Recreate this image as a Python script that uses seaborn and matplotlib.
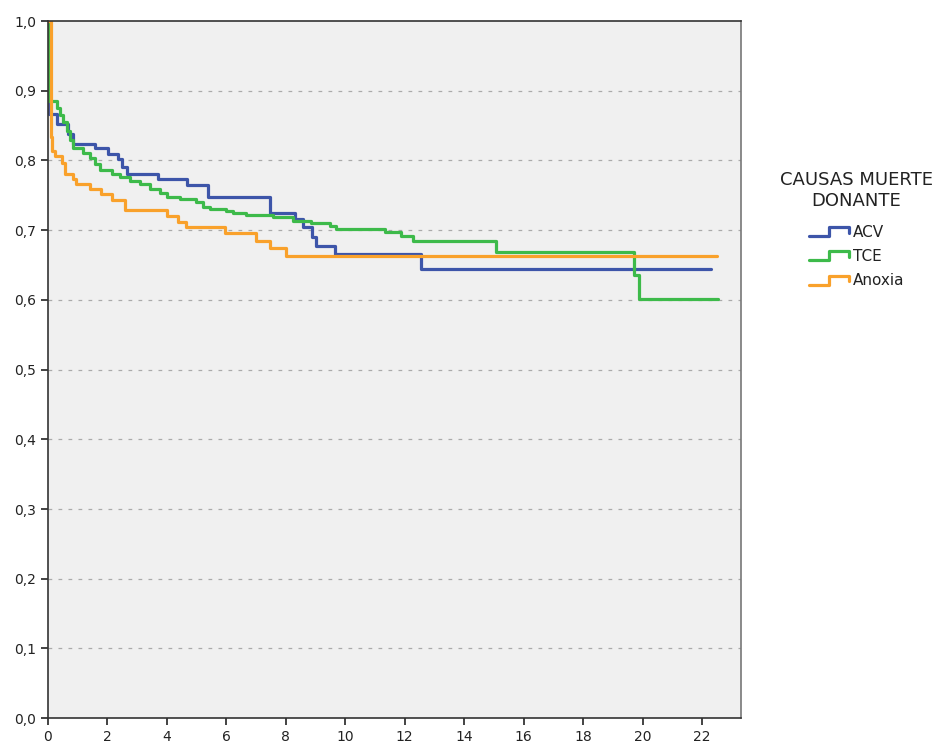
import numpy as np
import pandas as pd
import matplotlib
matplotlib.use('Agg')
import matplotlib.pyplot as plt
from matplotlib.lines import Line2D
from matplotlib.legend_handler import HandlerBase
import seaborn as sns

# curvas de supervivencia: tiempo de cada caida y supervivencia acumulada tras ella
acv_t = [0, 0.05, 0.3, 0.67, 0.84, 1.58, 2.02, 2.35, 2.5, 2.65, 3.7, 4.67, 5.37,
         7.46, 8.3, 8.57, 8.87, 9.0, 9.64, 12.55, 22.3]
acv_s = [1.0, 0.867, 0.852, 0.838, 0.824, 0.818, 0.81, 0.802, 0.79, 0.781, 0.773,
         0.765, 0.748, 0.725, 0.716, 0.704, 0.69, 0.678, 0.666, 0.644, 0.644]

tce_t = [0, 0.05, 0.29, 0.40, 0.51, 0.63, 0.74, 0.85, 1.19, 1.41, 1.58, 1.75, 2.14,
         2.42, 2.75, 3.09, 3.43, 3.76, 3.99, 4.43, 4.99, 5.22, 5.44, 6.0, 6.23, 6.67,
         7.57, 8.24, 8.86, 9.47, 9.70, 11.32, 11.88, 12.27, 15.07, 19.72, 19.89, 22.52]
tce_s = [1.0, 0.885, 0.875, 0.865, 0.855, 0.843, 0.830, 0.818, 0.811, 0.804, 0.795,
         0.787, 0.780, 0.776, 0.770, 0.766, 0.759, 0.753, 0.747, 0.745, 0.740, 0.733,
         0.731, 0.728, 0.725, 0.722, 0.719, 0.713, 0.710, 0.706, 0.702, 0.697, 0.691,
         0.684, 0.668, 0.635, 0.601, 0.601]

anox_t = [0, 0.1, 0.12, 0.24, 0.46, 0.57, 0.85, 0.96, 1.41, 1.80, 2.14, 2.59, 3.99,
          4.38, 4.66, 5.95, 7.01, 7.46, 8.02, 22.5]
anox_s = [1.0, 0.833, 0.814, 0.807, 0.797, 0.780, 0.773, 0.766, 0.759, 0.752, 0.743,
          0.729, 0.721, 0.712, 0.704, 0.696, 0.685, 0.674, 0.663, 0.663]

grupos = ['ACV', 'TCE', 'Anoxia']
colores = ['#3D55A9', '#3DBA4A', '#F9A12B']

df = pd.concat([
    pd.DataFrame({'t': acv_t, 's': acv_s, 'grupo': 'ACV'}),
    pd.DataFrame({'t': tce_t, 's': tce_s, 'grupo': 'TCE'}),
    pd.DataFrame({'t': anox_t, 's': anox_s, 'grupo': 'Anoxia'}),
], ignore_index=True)

sns.set_style('ticks')
plt.rcParams['font.family'] = ['DejaVu Sans']

fig = plt.figure(figsize=(9.4, 7.52), dpi=100)
ax = fig.add_axes([0.051, 0.045, 0.737, 0.927])
ax.set_facecolor('#F0F0F0')

sns.lineplot(data=df, x='t', y='s', hue='grupo', hue_order=grupos,
             palette=colores, estimator=None, sort=False,
             drawstyle='steps-post', linewidth=2.3, ax=ax, legend=False)

ax.set_xlim(0, 23.3)
ax.set_ylim(0, 1.0)
ax.set_xticks(np.arange(0, 23, 2))
ax.set_yticks(np.arange(0, 1.01, 0.1))
ax.set_yticklabels([f'{v:.1f}'.replace('.', ',') for v in np.arange(0, 1.01, 0.1)])
for v in np.arange(0.1, 0.95, 0.1):
    ax.axhline(v, color='#AAAAAA', linestyle=(0, (3, 5)), linewidth=0.9, zorder=0)
ax.set_xlabel('')
ax.set_ylabel('')
ax.tick_params(axis='both', direction='out', length=5, width=1.2,
               labelsize=10, colors='#222222')
for sp in ax.spines.values():
    sp.set_color('#333333')
    sp.set_linewidth(1.2)
ax.spines['right'].set_color('#777777')


class StepHandler(HandlerBase):
    def create_artists(self, legend, orig_handle, xdescent, ydescent,
                       width, height, fontsize, trans):
        w, h = width, height
        x0 = -xdescent
        xs = [x0, x0 + 0.5 * w, x0 + 0.5 * w, x0 + w, x0 + w]
        ys = [0.05 * h, 0.05 * h, 0.9 * h, 0.9 * h, 0.35 * h]
        ln = Line2D(xs, ys, color=orig_handle.get_color(), linewidth=2.3)
        ln.set_transform(trans)
        return [ln]


fig.text(0.911, 0.772, 'CAUSAS MUERTE\nDONANTE', ha='center', va='top',
         fontsize=13, color='#222222', linespacing=1.2, multialignment='center')

handles = [Line2D([], [], color=c) for c in colores]
leg = fig.legend(handles, grupos, loc='upper left', bbox_to_anchor=(0.8606, 0.701),
                 frameon=False, fontsize=11, handlelength=2.6, handletextpad=0.25,
                 labelspacing=0.6, borderpad=0, borderaxespad=0,
                 handler_map={Line2D: StepHandler()})
for t in leg.get_texts():
    t.set_color('#222222')

fig.savefig('out.png', dpi=100)
